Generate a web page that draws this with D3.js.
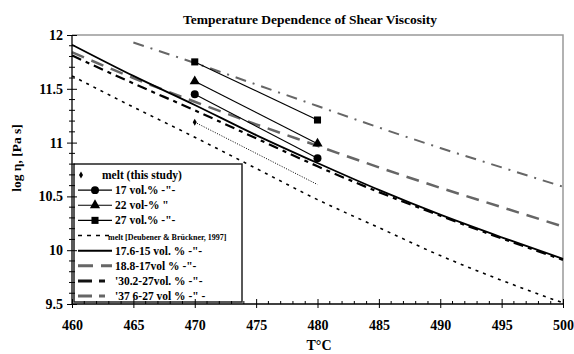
<!DOCTYPE html>
<html>
<head>
<meta charset="utf-8">
<script src="https://cdn.jsdelivr.net/npm/d3@7"></script>
<style>
  body { margin: 0; background: #fff; }
  text { font-family: "Liberation Serif", "Times New Roman", serif; font-weight: bold; }
</style>
</head>
<body>
<div id="chart"></div>
<script>
// temperatures of the model curves
const temps = [460, 465, 470, 475, 480, 485, 490, 495, 500];

// model curves (log eta)
const deubener = [11.62, 11.33, 11.05, 10.76, 10.47, 10.21, 9.95, 9.72, 9.51];
const curve176 = [11.91, 11.62, 11.35, 11.07, 10.81, 10.56, 10.33, 10.12, 9.92];
const curve188 = [11.84, 11.60, 11.38, 11.17, 10.97, 10.77, 10.58, 10.40, 10.22];
const curve302 = [11.81, 11.55, 11.30, 11.04, 10.78, 10.54, 10.32, 10.11, 9.91];
const temps376 = [465, 470, 475, 480, 485, 490, 495, 500];
const curve376 = [11.93, 11.74, 11.54, 11.34, 11.14, 10.95, 10.77, 10.59];

// measured points (this study)
const measTemps = [470, 480];
const meltPts = [11.19, 10.61];
const vol17 = [11.45, 10.855];
const vol22 = [11.57, 10.99];
const vol27 = [11.75, 11.21];

const legendLabels = [
  'melt (this study)',
  '17 vol.% -"-',
  '22 vol-%   "',
  '27 vol.% -"-',
  'melt [Deubener & Brückner, 1997]',
  '17.6-15 vol. % -"-',
  '18.8-17vol % -"-',
  "'30.2-27vol. %  -\"-",
  "'37 6-27 vol % -\" -"
];

const xTicks = [460, 465, 470, 475, 480, 485, 490, 495, 500];
const yTicks = [9.5, 10, 10.5, 11, 11.5, 12];

const W = 574, H = 354;
const margin = {top: 35, right: 11, bottom: 50, left: 72};

const svg = d3.select("#chart").append("svg")
  .attr("width", W).attr("height", H);

const x = d3.scaleLinear().domain([460, 500]).range([margin.left, W - margin.right]);
const y = d3.scaleLinear().domain([9.5, 12]).range([H - margin.bottom, margin.top]);

// frame (top and right in grey)
svg.append("path")
  .attr("d", `M${x(460)},${y(12)}H${x(500)}V${y(9.5)}`)
  .attr("fill", "none").attr("stroke", "#999").attr("stroke-width", 1.5);

// title
svg.append("text")
  .attr("x", 310).attr("y", 24)
  .attr("text-anchor", "middle")
  .style("font-size", "13.5px")
  .text("Temperature Dependence of Shear Viscosity");

// series definitions
const series = [
  {t: temps, v: deubener, color: "#000", width: 1.6, dash: "3,5"},
  {t: temps, v: curve188, color: "#666", width: 2.5, dash: "13,8"},
  {t: temps376, v: curve376, color: "#666", width: 2, dash: "11,7,2,7"},
  {t: temps, v: curve302, color: "#000", width: 2.2, dash: "10,5,4,5"},
  {t: temps, v: curve176, color: "#000", width: 1.8, dash: null}
];

const line = d3.line().curve(d3.curveMonotoneX);

series.forEach(s => {
  svg.append("path")
    .attr("d", line(s.t.map((t, i) => [x(t), y(s.v[i])])))
    .attr("fill", "none")
    .attr("stroke", s.color)
    .attr("stroke-width", s.width)
    .attr("stroke-dasharray", s.dash);
});

// measured series
svg.append("line")
  .attr("x1", x(measTemps[0])).attr("y1", y(meltPts[0]))
  .attr("x2", x(measTemps[1])).attr("y2", y(meltPts[1]))
  .attr("stroke", "#000").attr("stroke-width", 1).attr("stroke-dasharray", "1,1.5");

const sym = {
  circle: d3.symbol().type(d3.symbolCircle).size(50),
  triangle: d3.symbol().type(d3.symbolTriangle).size(45),
  square: d3.symbol().type(d3.symbolSquare).size(50),
  diamond: d3.symbol().type(d3.symbolDiamond).size(14)
};

[[vol17, "circle"], [vol22, "triangle"], [vol27, "square"]].forEach(([vals, s]) => {
  svg.append("line")
    .attr("x1", x(measTemps[0])).attr("y1", y(vals[0]))
    .attr("x2", x(measTemps[1])).attr("y2", y(vals[1]))
    .attr("stroke", "#000").attr("stroke-width", 1.1);
  svg.selectAll(null).data(vals).enter().append("path")
    .attr("d", sym[s]())
    .attr("transform", (d, i) => `translate(${x(measTemps[i])},${y(d)})`)
    .attr("fill", "#000");
});
svg.append("path")
  .attr("d", sym.diamond())
  .attr("transform", `translate(${x(measTemps[0])},${y(meltPts[0])})`)
  .attr("fill", "#000");

// legend
const lg = svg.append("g");
const lx0 = 74, lx1 = 242, ly0 = 164, ly1 = 302;
lg.append("rect")
  .attr("x", lx0).attr("y", ly0).attr("width", lx1 - lx0).attr("height", ly1 - ly0)
  .attr("fill", "#fff").attr("stroke", "#222").attr("stroke-width", 1.5);

const ly = d3.scalePoint().domain(d3.range(legendLabels.length)).range([175, 296]);
const sampleStyles = [
  null,
  {color: "#000", width: 1.1, dash: null, sym: "circle"},
  {color: "#000", width: 1.1, dash: null, sym: "triangle"},
  {color: "#000", width: 1.1, dash: null, sym: "square"},
  {color: "#000", width: 1.6, dash: "4,5"},
  {color: "#000", width: 2, dash: null},
  {color: "#666", width: 3, dash: "15,8"},
  {color: "#111", width: 3, dash: "14,7,6,20"},
  {color: "#666", width: 3, dash: "14,7,6,20"}
];

legendLabels.forEach((lab, i) => {
  const yy = ly(i);
  const st = sampleStyles[i];
  if (i === 0) {
    lg.append("path").attr("d", sym.diamond()).attr("transform", `translate(81,${yy})`).attr("fill", "#000");
  } else {
    lg.append("line")
      .attr("x1", 78).attr("x2", 112).attr("y1", yy).attr("y2", yy)
      .attr("stroke", st.color).attr("stroke-width", st.width)
      .attr("stroke-dasharray", st.dash);
    if (st.sym) {
      lg.append("path").attr("d", sym[st.sym]()).attr("transform", `translate(95,${yy})`).attr("fill", "#000");
    }
  }
  const tx = i === 0 ? 102 : (i === 4 ? 108 : 115);
  lg.append("text")
    .attr("x", tx).attr("y", yy + 4)
    .style("font-size", i === 4 ? "8px" : "11.5px")
    .text(lab);
});

// axes
const yAxis = d3.axisLeft(y).tickValues(yTicks).tickSize(5).tickPadding(6)
  .tickFormat(d3.format("~g"));
const gy = svg.append("g").attr("transform", `translate(${x(460)},0)`).call(yAxis);
gy.selectAll(".tick line").attr("x2", 5).attr("x1", -5);
gy.select(".domain").remove();
gy.selectAll(".tick text").style("font-size", "14px").attr("x", -9);

const yMinor = d3.range(9.6, 12, 0.1).filter(v => Math.abs(v * 2 - Math.round(v * 2)) > 0.01);
gy.selectAll(".minor").data(yMinor).enter().append("line")
  .attr("x1", -3).attr("x2", 3).attr("y1", d => y(d)).attr("y2", d => y(d))
  .attr("stroke", "#000");
gy.append("line").attr("y1", y(9.5)).attr("y2", y(12)).attr("stroke", "#000").attr("stroke-width", 1.3);

const xAxis = d3.axisBottom(x).tickValues(xTicks).tickSize(4).tickPadding(12);
const gx = svg.append("g").attr("transform", `translate(0,${y(9.5)})`).call(xAxis);
gx.selectAll(".tick line").attr("y1", -5).attr("y2", 4);
gx.select(".domain").remove();
gx.selectAll(".tick text").style("font-size", "14px");
const xMinor = d3.range(461, 500).filter(v => v % 5 !== 0);
gx.selectAll(".minor").data(xMinor).enter().append("line")
  .attr("x1", d => x(d)).attr("x2", d => x(d)).attr("y1", -3).attr("y2", 0)
  .attr("stroke", "#000");
gx.append("line").attr("x1", x(460)).attr("x2", x(500)).attr("stroke", "#000").attr("stroke-width", 1.3);
gx.selectAll("text").attr("font-family", null);

// axis titles
svg.append("text")
  .attr("x", 319).attr("y", 350)
  .attr("text-anchor", "middle")
  .style("font-size", "14px")
  .text("T°C");

svg.append("text")
  .attr("transform", `translate(21,158) rotate(-90)`)
  .attr("text-anchor", "middle")
  .style("font-size", "13.5px")
  .text("log η, [Pa s]");
</script>
</body>
</html>
